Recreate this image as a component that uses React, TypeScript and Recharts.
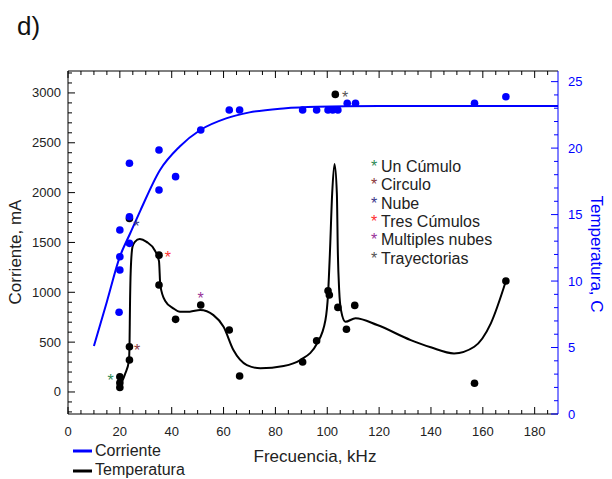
import React from 'react';
import { ComposedChart, Line, Scatter, XAxis, YAxis } from 'recharts';

// Corriente (mA, left axis)
const currentFreq = [19.7, 20, 20, 23.7, 20, 23.7, 23.7, 35.1, 35.1, 41.5, 51.2, 62.2, 66.2, 90.5, 95.9, 100.3, 102.1, 104.1, 107.7, 110.9, 156.8, 168.9];
const currentMa = [800, 1224, 1357, 1491, 1625, 1758, 2294, 2427, 2026, 2160, 2628, 2829, 2829, 2829, 2829, 2829, 2829, 2829, 2896, 2896, 2896, 2962];

const currentFitFreq = [10, 15, 20, 24, 28, 35.5, 43, 51, 61, 70, 83, 96, 120, 150, 189];
const currentFitMa = [461, 906, 1357, 1592, 1825, 2227, 2460, 2628, 2745, 2805, 2845, 2862, 2869, 2870, 2870];

// Temperatura (C, right axis)
const tempFreq = [20, 20, 20, 23.7, 23.7, 23.7, 35.1, 35.1, 41.5, 51.2, 62.2, 66.2, 90.5, 95.9, 100.3, 100.8, 103.1, 104.1, 107.4, 110.6, 156.8, 168.9];
const tempC = [2.8, 2.35, 2.0, 14.7, 5.06, 4.06, 11.95, 9.7, 7.12, 8.2, 6.32, 2.86, 3.91, 5.51, 9.27, 8.95, 24.04, 8.02, 6.37, 8.17, 2.31, 10.0];

const tempFitFreq = [20.3, 22, 23.5, 23.75, 23.9, 24.2, 24.9, 25.8, 27.7, 30.3, 33.5, 35.1, 35.6, 37.5, 40.6, 43.2, 47, 51, 56.1, 60, 63.8, 69, 74.2, 83.2, 89.6, 96.1, 99.3, 100.3, 101, 101.9, 102.8, 103.7, 104.1, 104.6, 105.3, 107, 110.9, 119.3, 132.2, 139.9, 148.9, 156.7, 163.1, 168.9];
const tempFitC = [2.2, 3.0, 4.0, 5.5, 8.0, 10.8, 12.6, 12.95, 13.16, 12.95, 12.3, 11.5, 9.7, 8.5, 7.95, 7.69, 7.7, 7.82, 7.44, 6.56, 4.81, 3.68, 3.44, 3.61, 4.06, 5.32, 7.07, 9.0, 12.0, 16.6, 18.8, 16.6, 12.0, 9.3, 7.8, 6.94, 7.2, 6.69, 5.56, 5.02, 4.56, 5.06, 6.82, 10.0];

// asterisk markers
const markerNames = ['Un Cúmulo', 'Circulo', 'Nube', 'Tres Cúmulos', 'Multiples nubes', 'Trayectorias'];
const markerColors = ['#2e8b57', '#8b3a3a', '#3a3a8b', '#ff3030', '#993399', '#555555'];
const markerFreq = [16.4, 26.7, 26.4, 38.5, 51.2, 106.9];
const markerC = [2.8, 5.06, 14.34, 12.0, 8.95, 24.1];

const xTicks = Array.from({ length: 38 }, (_, i) => i * 5);
const leftTicks = Array.from({ length: 35 }, (_, i) => -200 + i * 100);
const rightTicks = Array.from({ length: 26 }, (_, i) => i);

const currentPoints = currentFreq.map((x, i) => ({ x, y: currentMa[i] }));
const currentFit = currentFitFreq.map((x, i) => ({ x, y: currentFitMa[i] }));
const tempPoints = tempFreq.map((x, i) => ({ x, y: tempC[i] }));
const tempFit = tempFitFreq.map((x, i) => ({ x, y: tempFitC[i] }));
const markers = markerFreq.map((x, i) => ({ x, y: markerC[i], color: markerColors[i] }));

const FONT = '"Liberation Sans", Arial, sans-serif';

const BottomTick = ({ x, y, payload }: any) => {
  const major = payload.value % 20 === 0;
  return (
    <g>
      <line x1={x} y1={y} x2={x} y2={y - (major ? 7 : 4)} stroke="#000" />
      {major && (
        <text x={x} y={y + 22} textAnchor="middle" fontSize={13} fill="#222" fontFamily={FONT}>
          {payload.value}
        </text>
      )}
    </g>
  );
};

const TopTick = ({ x, y, payload }: any) => {
  const major = payload.value % 20 === 0;
  return <line x1={x} y1={y} x2={x} y2={y + (major ? 7 : 4)} stroke="#000" />;
};

const LeftTick = ({ x, y, payload }: any) => {
  const v = payload.value;
  const major = v % 500 === 0;
  return (
    <g>
      <line x1={x} y1={y} x2={x + (major ? 7 : 4)} y2={y} stroke="#000" />
      {major && v >= 0 && v <= 3000 && (
        <text x={x - 7} y={y + 4.5} textAnchor="end" fontSize={13} fill="#222" fontFamily={FONT}>
          {v}
        </text>
      )}
    </g>
  );
};

const RightTick = ({ x, y, payload }: any) => {
  const v = payload.value;
  const major = v % 5 === 0;
  return (
    <g>
      <line x1={x} y1={y} x2={x - (major ? 7 : 4)} y2={y} stroke="#0000ff" />
      {major && (
        <text x={x + 10} y={y + 4.5} textAnchor="start" fontSize={13} fill="#0000ff" fontFamily={FONT}>
          {v}
        </text>
      )}
    </g>
  );
};

const Dot = (color: string) => (p: any) => <circle cx={p.cx} cy={p.cy} r={3.8} fill={color} />;

const Asterisk = (p: any) => (
  <text x={p.cx} y={p.cy + 9} textAnchor="middle" fontSize={16} fill={p.payload.color} fontFamily={FONT}>
    *
  </text>
);

export default function App() {
  return (
    <div style={{ position: 'absolute', left: 0, top: 0, width: 612, height: 479, background: '#fff' }}>
      <ComposedChart width={612} height={479} margin={{ top: 0, right: 0, bottom: 0, left: 0 }}>
        <XAxis
          dataKey="x"
          type="number"
          domain={[0, 189]}
          ticks={xTicks}
          interval={0}
          height={65}
          tickSize={0}
          tickMargin={0}
          tickLine={false}
          tick={BottomTick}
          axisLine={{ stroke: '#000' }}
          allowDataOverflow
        />
        <XAxis
          xAxisId="top"
          orientation="top"
          dataKey="x"
          type="number"
          domain={[0, 189]}
          ticks={xTicks}
          interval={0}
          height={71}
          tickSize={0}
          tickMargin={0}
          tickLine={false}
          tick={TopTick}
          axisLine={{ stroke: '#000' }}
          allowDataOverflow
        />
        <YAxis
          yAxisId="left"
          type="number"
          domain={[-221, 3220]}
          ticks={leftTicks}
          interval={0}
          width={68}
          tickSize={0}
          tickMargin={0}
          tickLine={false}
          tick={LeftTick}
          axisLine={{ stroke: '#000' }}
          allowDataOverflow
        />
        <YAxis
          yAxisId="right"
          orientation="right"
          type="number"
          domain={[0, 25.8]}
          ticks={rightTicks}
          interval={0}
          width={54}
          tickSize={0}
          tickMargin={0}
          tickLine={false}
          tick={RightTick}
          axisLine={{ stroke: '#0000ff' }}
          allowDataOverflow
        />
        <Line
          yAxisId="right"
          data={tempFit}
          dataKey="y"
          type="monotone"
          stroke="#000"
          strokeWidth={2}
          dot={false}
          isAnimationActive={false}
        />
        <Line
          yAxisId="left"
          data={currentFit}
          dataKey="y"
          type="monotone"
          stroke="#0000ff"
          strokeWidth={2}
          dot={false}
          isAnimationActive={false}
        />
        <Scatter yAxisId="right" data={tempPoints} dataKey="y" shape={Dot('#000')} isAnimationActive={false} />
        <Scatter yAxisId="left" data={currentPoints} dataKey="y" shape={Dot('#0000ff')} isAnimationActive={false} />
        <Scatter yAxisId="right" data={markers} dataKey="y" shape={Asterisk} isAnimationActive={false} />
      </ComposedChart>
      <svg
        width={612}
        height={479}
        style={{ position: 'absolute', left: 0, top: 0, pointerEvents: 'none' }}
        fontFamily={FONT}
      >
        <text x={17} y={35} fontSize={26} fill="#111">d)</text>
        <text transform="translate(21,252) rotate(-90)" textAnchor="middle" fontSize={17} fill="#222">
          Corriente, mA
        </text>
        <text transform="translate(591,254) rotate(90)" textAnchor="middle" fontSize={17} fill="#0000ff">
          Temperatura, C
        </text>
        <text x={315} y={462} textAnchor="middle" fontSize={17} fill="#222">Frecuencia, kHz</text>
        <line x1={73} y1={451} x2={92} y2={451} stroke="#0000ff" strokeWidth={3} />
        <text x={95} y={456} fontSize={16} fill="#222">Corriente</text>
        <line x1={73} y1={471} x2={92} y2={471} stroke="#000" strokeWidth={3} />
        <text x={95} y={475} fontSize={16} fill="#222">Temperatura</text>
        {markerNames.map((name, i) => (
          <g key={name}>
            <text x={374} y={172 + i * 18.3} textAnchor="middle" fontSize={16} fill={markerColors[i]}>*</text>
            <text x={381} y={172 + i * 18.3} fontSize={16} fill="#222">{name}</text>
          </g>
        ))}
      </svg>
    </div>
  );
}
